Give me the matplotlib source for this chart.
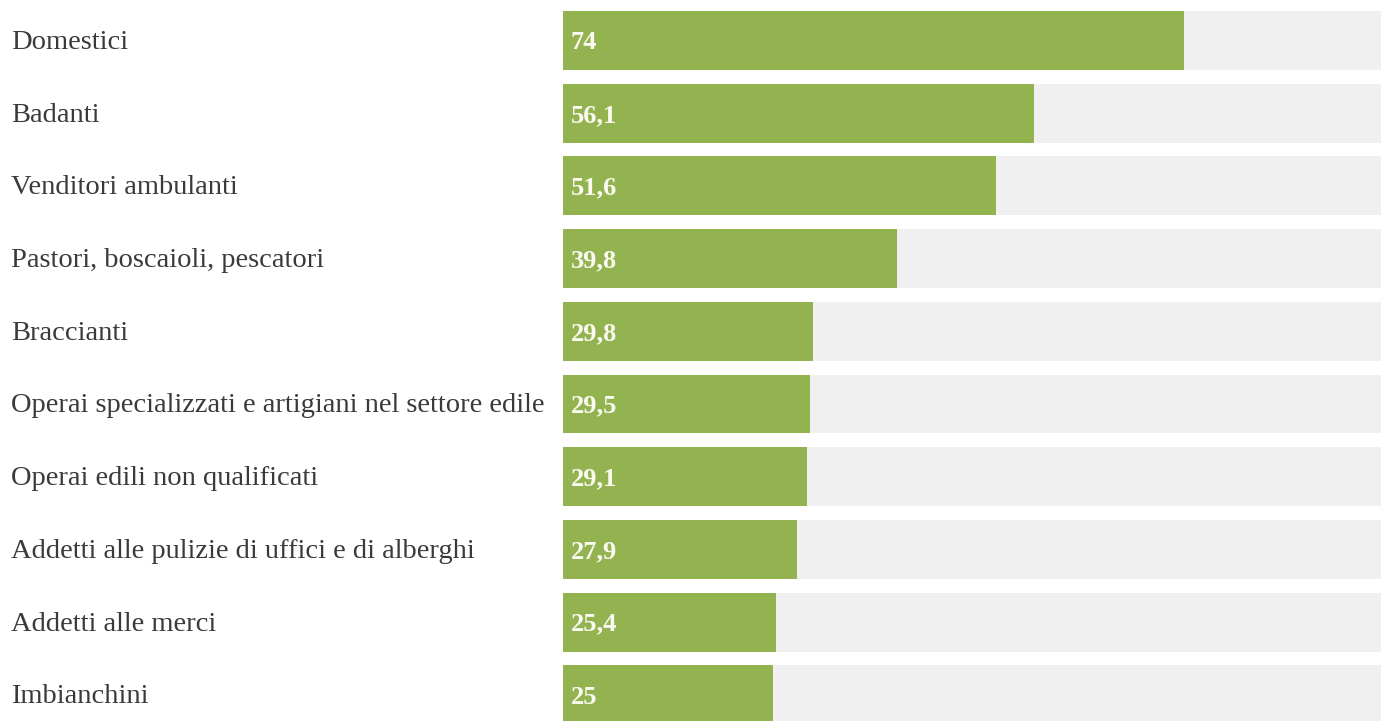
import matplotlib.pyplot as plt

categorie = ["Domestici", "Badanti", "Venditori ambulanti", "Pastori, boscaioli, pescatori",
             "Braccianti", "Operai specializzati e artigiani nel settore edile",
             "Operai edili non qualificati", "Addetti alle pulizie di uffici e di alberghi",
             "Addetti alle merci", "Imbianchini"]
valori = [74, 56.1, 51.6, 39.8, 29.8, 29.5, 29.1, 27.9, 25.4, 25]
etichette = ["74", "56,1", "51,6", "39,8", "29,8", "29,5", "29,1", "27,9", "25,4", "25"]

verde = "#93b351"
grigio = "#f0f0f0"

fig = plt.figure(figsize=(13.81, 7.21), dpi=100)
ax = fig.add_axes([563 / 1381, 0, 818 / 1381, 1])

y = list(range(len(categorie)))
xmax = 97.5
ax.barh(y, [xmax] * len(y), height=0.81, color=grigio)
ax.barh(y, valori, height=0.81, color=verde)

for i, t in enumerate(etichette):
    ax.text(0.9, i + 0.03, t, color="#fafaf0", fontsize=19, fontweight="bold",
            family="Liberation Serif", va="center", ha="left")

# etichette delle categorie a sinistra
for i, c in enumerate(categorie):
    fig.text(11 / 1381, 1 - (42.5 + i * 72.7) / 721, c, color="#3a3a3a", fontsize=20.5,
             family="Liberation Serif", va="center", ha="left")

ax.set_xlim(0, xmax)
ax.set_ylim(9.36, -0.557)
ax.axis("off")

fig.savefig("out.png", dpi=100, facecolor="white")
